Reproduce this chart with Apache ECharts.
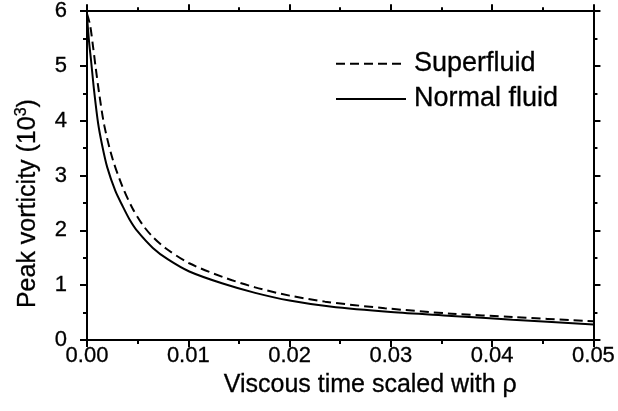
<!DOCTYPE html>
<html><head><meta charset="utf-8">
<script src="https://cdn.jsdelivr.net/npm/echarts@6/dist/echarts.min.js"></script>
<style>html,body{margin:0;padding:0;background:#fff}#c{width:618px;height:411px}</style>
</head><body><div id="c"></div>
<script>
const xTickLabels = ['0.00','0.01','0.02','0.03','0.04','0.05'];
const yTickLabels = ['0','1','2','3','4','5','6'];
const seriesNames = ['Superfluid','Normal fluid'];

const superTime = [0, 0.0003, 0.0006, 0.00085, 0.0012, 0.0017, 0.0025, 0.0035, 0.0045, 0.0055, 0.0065, 0.0078, 0.0101, 0.0134, 0.0166, 0.02, 0.0235, 0.0294, 0.036, 0.042, 0.05];
const superVal  = [5.95, 5.75, 5.35, 4.98, 4.50, 3.92, 3.32, 2.80, 2.40, 2.10, 1.88, 1.67, 1.40, 1.15, 0.96, 0.81, 0.70, 0.58, 0.48, 0.42, 0.34];

const normalTime = [0, 0.0002, 0.0004, 0.0007, 0.0011, 0.0015, 0.002, 0.0028, 0.0035, 0.0042, 0.005, 0.0065, 0.008, 0.0101, 0.0134, 0.0166, 0.02, 0.024, 0.03, 0.036, 0.042, 0.05];
const normalVal  = [5.9, 5.45, 5.1, 4.55, 3.95, 3.55, 3.15, 2.72, 2.45, 2.2, 1.98, 1.68, 1.47, 1.25, 1.03, 0.86, 0.72, 0.61, 0.51, 0.44, 0.37, 0.285];

const FONT = 'Liberation Sans';
const chart = echarts.init(document.getElementById('c'), null, {renderer:'canvas'});

function axisCommon(extra){
  return Object.assign({
    axisLine:{show:true,onZero:false,lineStyle:{color:'#000',width:2}},
    axisTick:{show:true,inside:false,length:7,lineStyle:{color:'#000',width:2}},
    minorTick:{show:true,splitNumber:2,length:4,lineStyle:{color:'#000',width:2}},
    splitLine:{show:false},
    minorSplitLine:{show:false}
  }, extra);
}
const heavy = {textBorderColor:'#000',textBorderWidth:0.3};

const option = {
  animation:false,
  backgroundColor:'#fff',
  textStyle:{fontFamily:FONT,color:'#000'},
  grid:{left:87,right:21,top:11,bottom:71,containLabel:false},
  legend:{
    orient:'vertical', left:330, top:45, itemWidth:70, itemHeight:4, itemGap:8,
    data:seriesNames,
    itemStyle:{color:'rgba(0,0,0,0)',borderWidth:0},
    textStyle:Object.assign({fontFamily:FONT,fontSize:27,color:'#000',padding:[0,0,0,3]},heavy)
  },
  xAxis:[
    axisCommon({type:'value',position:'bottom',min:0,max:0.05,interval:0.01,
      name:'Viscous time scaled with ρ',nameLocation:'middle',nameGap:33,
      nameTextStyle:Object.assign({fontFamily:FONT,fontSize:25,color:'#000',padding:[0,0,0,60]},heavy),
      axisLabel:Object.assign({show:true,margin:5,fontFamily:FONT,fontSize:22,color:'#000',
        formatter:v=>xTickLabels[Math.round(v/0.01)]},heavy)}),
    axisCommon({type:'value',position:'top',min:0,max:0.05,interval:0.01,axisLabel:{show:false}})
  ],
  yAxis:[
    axisCommon({type:'value',position:'left',min:0,max:6,interval:1,
      name:'Peak vorticity (10{sup|3})',nameLocation:'middle',nameGap:45,nameRotate:90,
      nameTextStyle:Object.assign({fontFamily:FONT,fontSize:25,color:'#000',padding:[0,56,0,0],
        rich:{sup:Object.assign({fontFamily:FONT,fontSize:16,color:'#000',verticalAlign:'top',padding:[0,0,12,0]},heavy)}},heavy),
      axisLabel:Object.assign({show:true,margin:20,fontFamily:FONT,fontSize:22,color:'#000',
        formatter:v=>yTickLabels[Math.round(v)]},heavy)}),
    axisCommon({type:'value',position:'right',min:0,max:6,interval:1,axisLabel:{show:false}})
  ],
  series:[
    {name:seriesNames[0],type:'line',xAxisIndex:0,yAxisIndex:0,symbol:'none',smooth:0.3,
      lineStyle:{color:'#000',width:2,type:[9,5]},itemStyle:{color:'#000'},
      data:superTime.map((t,i)=>[t,superVal[i]])},
    {name:seriesNames[1],type:'line',xAxisIndex:0,yAxisIndex:0,symbol:'none',smooth:0.3,
      lineStyle:{color:'#000',width:2,type:'solid'},itemStyle:{color:'#000'},
      data:normalTime.map((t,i)=>[t,normalVal[i]])}
  ]
};
chart.setOption(option);
</script>
</body></html>
